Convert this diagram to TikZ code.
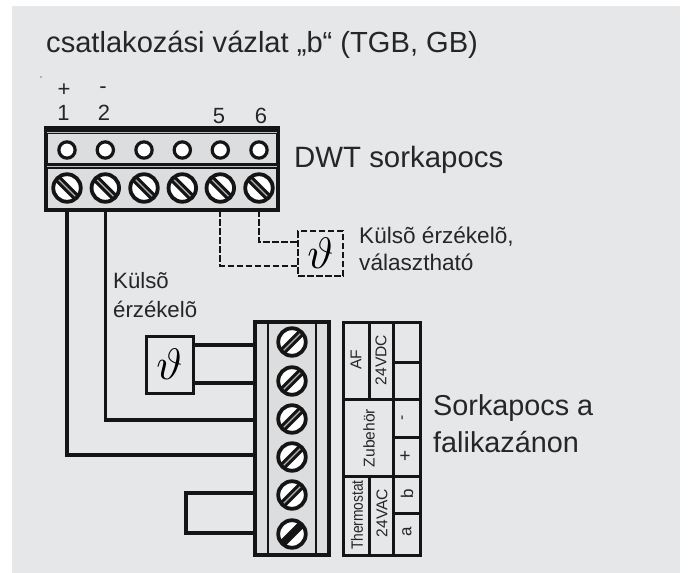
\documentclass[tikz,border=0pt]{standalone}
\usepackage{fontspec}
\setmainfont{Liberation Sans}
\usetikzlibrary{calc}
\definecolor{panel}{HTML}{E6E7E8}
\definecolor{body}{HTML}{DCDDDE}
\definecolor{ink}{HTML}{151515}
\definecolor{txt}{HTML}{262626}
\newcommand{\fs}[1]{\fontsize{#1}{#1}\selectfont}
\newcommand{\screwnode}[5]{%
  \node[screwhead] (#1) at (#2,#3) {};
  \draw[line width=7.5pt,ink] ($(#1)+(#4:13.5)$) -- ($(#1)+(#4+180:13.5)$);
  \draw[line width=1.2pt,#5] ($(#1)+(#4:11.5)$) -- ($(#1)+(#4+180:11.5)$);
}
\tikzset{
  x=1pt,y=-1pt,
  blockbox/.style={draw=ink,line width=3.4pt,fill=body,rectangle,inner sep=0pt},
  screwhead/.style={circle,draw=ink,line width=3.8pt,fill=white,minimum size=27.5pt,inner sep=0pt},
  hole/.style={circle,draw=ink,line width=3.2pt,fill=white,minimum size=16.3pt,inner sep=0pt},
  wire/.style={draw=ink,line width=3.6pt,line cap=butt,line join=miter},
  dwire/.style={draw=ink,line width=2pt,dash pattern=on 6.5pt off 2.5pt},
  rule/.style={draw=ink,line width=3pt},
  lab/.style={inner sep=0pt,text=txt,anchor=base west},
  ctr/.style={inner sep=0pt,text=txt,anchor=center},
  tabtext/.style={ctr,rotate=90,font=\fs{15.6}},
}
\begin{document}
\begin{tikzpicture}
\useasboundingbox (0,0) rectangle (689,573);
\fill[panel] (12,6) rectangle (680,573);
% title
\node[lab,font=\fs{29.1}] (title) at (46,52) {csatlakozási vázlat „b“ (TGB, GB)};
\fill[black] (41,77) circle (0.6);
% numbers
\node[ctr,font=\fs{22}] (np) at (64,90) {+};
\node[ctr,font=\fs{22}] (n1) at (63.5,113) {1};
\node[ctr,font=\fs{22}] (nm) at (103,90) {-};
\node[ctr,font=\fs{22}] (n2) at (104,113) {2};
\node[ctr,font=\fs{22}] (n5) at (219,116) {5};
\node[ctr,font=\fs{22}] (n6) at (261,116) {6};
% DWT block
\path[blockbox] (46,128) rectangle (278,210);
\node[inner sep=0pt,minimum width=232pt,minimum height=82pt] (blockA) at (162,169) {};
\draw[ink,line width=5.5pt] (46,131) -- (278,131);
\draw[black!25,line width=0.9pt] (47,132) -- (277,132);
\draw[ink,line width=5.5pt] (46,166) -- (278,166);
\draw[black!25,line width=0.9pt] (47,166) -- (277,166);
\foreach \n/\x in {1/67,2/105.3,3/144,4/182.3,5/220.3,6/259}{
  \node[hole] (h\n) at (\x,150) {};
  \screwnode{a\n}{\x}{188}{45}{black!30}
}
\node[lab,font=\fs{29.4}] (dwt) at (294,167) {DWT sorkapocs};
% falikazan block
\path[blockbox] (255,322) rectangle (329,555);
\node[inner sep=0pt,minimum width=74pt,minimum height=233pt] (blockB) at (292,438.5) {};
\draw[ink,line width=2.8pt] (268,322) -- (268,555) (316,322) -- (316,555);
\foreach \n/\y in {1/342,2/381,3/419,4/457,5/495}{
  \screwnode{b\n}{292}{\y}{-45}{black!30}
}
\screwnode{b6}{292}{534}{-45}{ink}
% table
\node[draw=ink,line width=3pt,inner sep=0pt,minimum width=77pt,minimum height=233pt] (tab) at (381.5,438.5) {};
\draw[rule] (393,322) -- (393,555);
\draw[rule] (343,399) -- (420,399) (343,476) -- (420,476);
\draw[rule] (369,322) -- (369,399) (369,476) -- (369,555);
\draw[rule] (393,362) -- (420,362) (393,437) -- (420,437) (393,513) -- (420,513);
\node[tabtext] (af) at (356,360) {AF};
\node[tabtext] (vdc) at (381,360) {24VDC};
\node[tabtext] (zub) at (369,438) {Zubehör};
\node[tabtext,font=\fs{16.4}] (thm) at (357,515) {\scalebox{.84}[1]{Thermostat}};
\node[tabtext] (vac) at (382,513) {24VAC};
\node[tabtext] (mn) at (404,418) {-};
\node[tabtext,font=\fs{19}] (pl) at (406,456) {+};
\node[tabtext,font=\fs{17}] (bb) at (407,494) {b};
\node[tabtext,font=\fs{17}] (aa) at (407,532) {a};
% sensors
\node[draw=ink,line width=3pt,inner sep=0pt,minimum width=47pt,minimum height=57pt] (sens) at (169.5,364.5) {\scalebox{4.4}{$\vartheta$}};
\node[draw=ink,line width=2pt,dash pattern=on 6.5pt off 2.5pt,inner sep=0pt,minimum width=45pt,minimum height=45pt] (opt) at (320.5,253.5) {\scalebox{4.4}{$\vartheta$}};
% wire levels
\coordinate (w1) at (0,345);
\coordinate (w2) at (0,383);
\coordinate (w3) at (0,420);
\coordinate (w4) at (0,455);
\coordinate (w5) at (0,493);
\coordinate (w6) at (0,533);
\coordinate (loopx) at (186,0);
\coordinate (y6) at (0,242);
\coordinate (y5) at (0,266);
% wires
\draw[wire] (a1 |- blockA.south) |- (w4 -| blockB.west);
\draw[wire] (a2 |- blockA.south) |- (w3 -| blockB.west);
\draw[wire] (sens.east |- w1) -- (w1 -| blockB.west);
\draw[wire] (sens.east |- w2) -- (w2 -| blockB.west);
\draw[wire] (w5 -| blockB.west) -- (loopx |- w5) -- (loopx |- w6) -- (w6 -| blockB.west);
\draw[dwire] (a5 |- blockA.south) -- (a5 |- y5) -- (opt.west |- y5);
\draw[dwire] (a6 |- blockA.south) -- (a6 |- y6) -- (opt.west |- y6);
% labels
\node[lab,font=\fs{22.2}] (ext1) at (113,288) {Külsõ};
\node[lab,font=\fs{22.2}] (ext2) at (113,317) {érzékelõ};
\node[lab,font=\fs{22.6}] (opt1) at (359,243) {Külsõ érzékelõ,};
\node[lab,font=\fs{22.6}] (opt2) at (359,270) {választható};
\node[lab,font=\fs{28.8}] (sk1) at (433,415) {Sorkapocs a};
\node[lab,font=\fs{28.8}] (sk2) at (433,452) {falikazánon};
\end{tikzpicture}
\end{document}
